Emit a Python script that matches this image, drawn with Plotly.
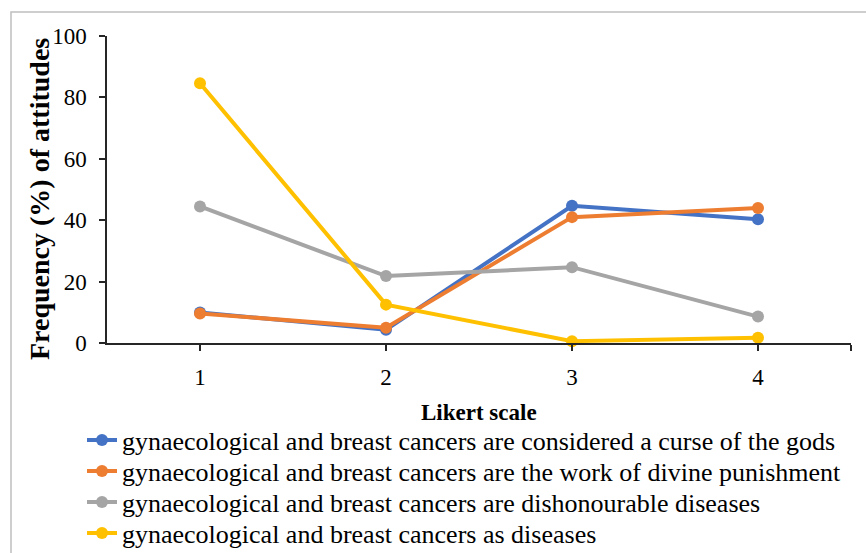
import plotly.graph_objects as go

# Likert scale points (x categories)
likert = [1, 2, 3, 4]
tick_labels = ["1", "2", "3", "4"]

# Frequency (%) of each attitude at each Likert point
curse_of_gods = [9.9, 4.3, 44.7, 40.3]
divine_punishment = [9.6, 5.0, 41.0, 44.0]
dishonourable = [44.5, 21.8, 24.7, 8.6]
as_diseases = [84.6, 12.5, 0.6, 1.7]

series_names = [
    "gynaecological and breast cancers are considered a curse of the gods",
    "gynaecological and breast cancers are the work of divine punishment",
    "gynaecological and breast cancers are dishonourable diseases",
    "gynaecological and breast cancers as diseases",
]
series_values = [curse_of_gods, divine_punishment, dishonourable, as_diseases]
series_colors = ["#4472C4", "#ED7D31", "#A5A5A5", "#FFC000"]

y_ticks = [0, 20, 40, 60, 80, 100]

FONT = "Liberation Serif"

L, R, T, B = 107, 15, 36, 210
W, H = 866, 553
pw, ph = W - L - R, H - T - B


def px_x(p):
    return (p - L) / pw


def px_y(p):
    return (H - B - p) / ph


# one legend box per series so the rows sit at fixed spacing
legend_rows = [440, 471, 502, 533]
legend_ids = ["legend", "legend2", "legend3", "legend4"]

fig = go.Figure()
for name, vals, col, lid in zip(series_names, series_values, series_colors, legend_ids):
    fig.add_trace(go.Scatter(
        x=likert, y=vals, name=name, mode="lines+markers",
        line=dict(color=col, width=4),
        marker=dict(color=col, size=12),
        cliponaxis=False, legend=lid,
    ))

legend_layout = {}
for lid, row in zip(legend_ids, legend_rows):
    legend_layout[lid] = dict(
        x=px_x(82), y=px_y(row), xanchor="left", yanchor="middle",
        font=dict(size=26, family=FONT, color="#000000"),
        bgcolor="rgba(0,0,0,0)", itemwidth=30, borderwidth=0,
    )

fig.update_layout(
    width=W, height=H,
    margin=dict(l=L, r=R, t=T, b=B, pad=0, autoexpand=False),
    paper_bgcolor="white", plot_bgcolor="white",
    font=dict(family=FONT, color="#000000"),
    showlegend=True,
    xaxis=dict(
        range=[0.5, 4.5], tickmode="array",
        tickvals=likert + [4.5], ticktext=tick_labels + [""],
        showgrid=False, zeroline=False,
        showline=True, linecolor="#262626", linewidth=1.5,
        ticks="outside", ticklen=6, tickcolor="#262626", tickwidth=1.5,
        tickfont=dict(size=23, family=FONT, color="#000000"),
        ticklabelstandoff=7,
    ),
    yaxis=dict(
        range=[0, 100], tickmode="array", tickvals=y_ticks,
        showgrid=False, zeroline=False,
        showline=True, linecolor="#262626", linewidth=1.5,
        ticks="outside", ticklen=6, tickcolor="#262626", tickwidth=1.5,
        tickfont=dict(size=23, family=FONT, color="#000000"),
        ticklabelstandoff=8,
    ),
    shapes=[dict(
        type="rect", xref="paper", yref="paper",
        x0=px_x(11), x1=px_x(880), y0=px_y(570), y1=px_y(12),
        line=dict(color="#BFBFBF", width=1.5), fillcolor="rgba(0,0,0,0)",
        layer="below",
    )],
    annotations=[
        dict(text="<b>Frequency (%) of attitudes</b>", xref="paper", yref="paper",
             x=px_x(39), y=px_y(199), xanchor="center", yanchor="middle",
             textangle=-90, showarrow=False,
             font=dict(size=28, family=FONT, color="#000000")),
        dict(text="<b>Likert scale</b>", xref="paper", yref="paper",
             x=0.5, y=px_y(412), xanchor="center", yanchor="middle",
             showarrow=False,
             font=dict(size=23, family=FONT, color="#000000")),
    ],
    **legend_layout,
)

fig.write_html("out.html")
